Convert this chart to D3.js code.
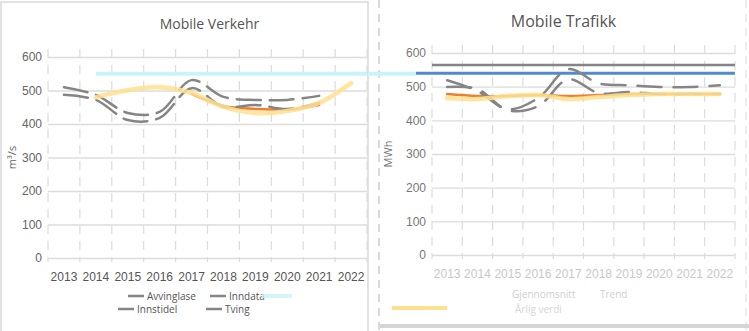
<!DOCTYPE html>
<html>
<head>
<meta charset="utf-8">
<script src="https://cdn.jsdelivr.net/npm/d3@7"></script>
<style>
  html, body { margin: 0; padding: 0; background: #fff; }
  svg { display: block; font-family: "Open Sans", "Noto Sans", sans-serif; }
</style>
</head>
<body>
<svg id="chart" width="749" height="331"></svg>
<script>
// Categories shared by both panels
const years = ["2013", "2014", "2015", "2016", "2017", "2018", "2019", "2020", "2021", "2022"];
const yTicks = [0, 100, 200, 300, 400, 500, 600];

// Left panel series
const leftGrayA  = [510, 487, 433, 436, 531, 481, 472, 472, 484, null];
const leftGrayB  = [487, 472, 412, 418, 507, 451, 457, 445, 463, null];
const leftOrange = [null, null, null, null, 490, 454, 445, 443, 457, null];
const leftYellow = [null, 480, 501, 510, 493, 451, 433, 439, 463, 522];
const leftTarget = 550;

// Right panel series
const rightGrayA  = [519, 487, 433, 466, 552, 510, 504, 499, 499, 504];
const rightGrayB  = [499, 493, 430, 442, 522, 481, 484, 478, 478, 478];
const rightOrange = [478, 472, 472, 475, 472, 475, 478, 478, 478, 478];
const rightYellow = [466, 463, 472, 475, 463, 469, 475, 478, 478, 478];
const rightCap    = 564;
const rightTarget = 540;

const svg = d3.select("#chart");

const C = {
  gray: "#858585",
  orange: "#ed7d31",
  yellow: "#ffe08f",
  cyan: "#c8f4fb",
  blue: "#4f8cc9",
  grid: "#dcdcdc",
  frame: "#d9d9d9"
};

// Panel frames
svg.append("path")
  .attr("d", "M1,331 V2 H368 V331")
  .attr("fill", "none").attr("stroke", C.frame).attr("stroke-width", 1.5);
svg.append("line").attr("x1", 379).attr("x2", 379).attr("y1", 0).attr("y2", 331)
  .attr("stroke", C.frame).attr("stroke-width", 2).attr("stroke-dasharray", "8,6");
svg.append("line").attr("x1", 746).attr("x2", 746).attr("y1", 0).attr("y2", 331)
  .attr("stroke", "#e6e6e6").attr("stroke-width", 1.5).attr("stroke-dasharray", "8,6");
svg.append("rect").attr("x", 380).attr("y", 324).attr("width", 369).attr("height", 4)
  .attr("fill", "#d6d6d6");

function panel(cfg) {
  const g = svg.append("g");
  const x = d3.scaleBand().domain(years).range([cfg.x0, cfg.x1]);
  const y = d3.scaleLinear().domain([0, 600]).range([cfg.y0, cfg.y1]);
  const cx = d => x(d) + x.bandwidth() / 2;

  // horizontal grid
  g.append("g")
    .attr("transform", `translate(${cfg.x0},0)`)
    .call(d3.axisLeft(y).tickValues(yTicks).tickSize(-(cfg.x1 - cfg.x0)).tickFormat(""))
    .call(a => a.select(".domain").remove())
    .call(a => a.selectAll("line").attr("stroke", C.grid).attr("stroke-width", 1.3));

  // vertical band separators
  g.append("g")
    .selectAll("line")
    .data(years.concat(["end"]))
    .join("line")
    .attr("x1", (d, i) => cfg.x0 + i * x.step())
    .attr("x2", (d, i) => cfg.x0 + i * x.step())
    .attr("y1", cfg.y1 - 8).attr("y2", cfg.y0 + 4)
    .attr("stroke", C.grid).attr("stroke-width", 1.2)
    .attr("stroke-dasharray", "9,7");

  // y tick labels
  g.append("g")
    .attr("transform", `translate(${cfg.x0 - 4},0)`)
    .call(d3.axisLeft(y).tickValues(yTicks).tickSize(0).tickPadding(2))
    .call(a => a.select(".domain").remove())
    .call(a => a.selectAll("text")
      .attr("fill", cfg.labelColor).attr("font-size", 12));

  // x tick labels
  g.append("g")
    .attr("transform", `translate(0,${cfg.y0 + 4})`)
    .call(d3.axisBottom(x).tickSize(0).tickPadding(10))
    .call(a => a.select(".domain").remove())
    .call(a => a.selectAll("text")
      .attr("fill", cfg.xLabelColor).attr("font-size", 12));

  // title
  g.append("text")
    .attr("x", (cfg.x0 + cfg.x1) / 2 + cfg.titleDx).attr("y", cfg.titleY)
    .attr("text-anchor", "middle")
    .attr("fill", "#555").attr("font-size", cfg.titleSize)
    .text(cfg.title);

  // y axis title
  g.append("text")
    .attr("transform", `translate(${cfg.yTitleX},${(cfg.y0 + cfg.y1) / 2}) rotate(-90)`)
    .attr("text-anchor", "middle")
    .attr("fill", cfg.labelColor).attr("font-size", 11)
    .text(cfg.yTitle);

  const line = d3.line()
    .defined(d => d[1] != null)
    .x(d => cx(d[0]))
    .y(d => y(d[1]))
    .curve(d3.curveCatmullRom.alpha(0.5));
  const pairs = vals => years.map((yr, i) => [yr, vals[i]]);

  return { g, x, y, cx, line, pairs };
}

// ---------- Left panel ----------
const L = panel({
  x0: 48, x1: 367, y0: 258, y1: 57,
  title: "Mobile Verkehr", titleY: 29, titleSize: 14, titleDx: 2,
  yTitle: "m³/s", yTitleX: 16,
  labelColor: "#666", xLabelColor: "#555"
});

L.g.append("line")
  .attr("x1", L.cx("2014")).attr("x2", 367)
  .attr("y1", L.y(leftTarget)).attr("y2", L.y(leftTarget))
  .attr("stroke", C.cyan).attr("stroke-width", 4);

[
  { v: leftOrange, c: C.orange, w: 2.5, dash: null },
  { v: leftGrayB, c: C.gray, w: 2.5, dash: "24,9" },
  { v: leftGrayA, c: C.gray, w: 2.5, dash: "24,9" },
  { v: leftYellow, c: C.yellow, w: 4.5, dash: null, op: 0.85 }
].forEach(s => {
  L.g.append("path")
    .attr("d", L.line(L.pairs(s.v)))
    .attr("fill", "none").attr("stroke", s.c).attr("stroke-width", s.w)
    .attr("stroke-linecap", "round")
    .attr("stroke-dasharray", s.dash)
    .attr("opacity", s.op || 1);
});

// Left legend, two rows
const leftLegend = [
  { label: "Avvinglase", color: C.gray, x: 128, y: 299 },
  { label: "Inndata", color: C.gray, x: 210, y: 299 },
  { label: "Innstidel", color: C.gray, x: 118, y: 312 },
  { label: "Tving", color: C.gray, x: 206, y: 312 }
];
const lg = svg.append("g");
leftLegend.forEach(d => {
  lg.append("line").attr("x1", d.x).attr("x2", d.x + 16).attr("y1", d.y - 3).attr("y2", d.y - 3)
    .attr("stroke", d.color).attr("stroke-width", 2.5);
  lg.append("text").attr("x", d.x + 19).attr("y", d.y + 1)
    .attr("fill", "#555").attr("font-size", 10).text(d.label);
});
lg.append("line").attr("x1", 262).attr("x2", 292).attr("y1", 296).attr("y2", 296)
  .attr("stroke", C.cyan).attr("stroke-width", 4).attr("opacity", 0.8);

// ---------- Right panel ----------
const R = panel({
  x0: 432, x1: 735, y0: 255, y1: 53,
  title: "Mobile Trafikk", titleY: 27, titleSize: 16, titleDx: -20,
  yTitle: "MWh", yTitleX: 392,
  labelColor: "#777", xLabelColor: "#c8c8c8"
});

// cyan target continues across the gap
svg.append("line")
  .attr("x1", 368).attr("x2", 416)
  .attr("y1", L.y(leftTarget)).attr("y2", L.y(leftTarget))
  .attr("stroke", C.cyan).attr("stroke-width", 4);

R.g.append("line")
  .attr("x1", 432).attr("x2", 735)
  .attr("y1", R.y(rightCap)).attr("y2", R.y(rightCap))
  .attr("stroke", C.gray).attr("stroke-width", 2.5);
R.g.append("line")
  .attr("x1", 416).attr("x2", 735)
  .attr("y1", R.y(rightTarget)).attr("y2", R.y(rightTarget))
  .attr("stroke", C.blue).attr("stroke-width", 3);

[
  { v: rightOrange, c: C.orange, w: 2.5, dash: null },
  { v: rightGrayB, c: C.gray, w: 2.5, dash: "24,12" },
  { v: rightGrayA, c: C.gray, w: 2.5, dash: "24,12" },
  { v: rightYellow, c: C.yellow, w: 4.5, dash: null, op: 0.85 }
].forEach(s => {
  R.g.append("path")
    .attr("d", R.line(R.pairs(s.v)))
    .attr("fill", "none").attr("stroke", s.c).attr("stroke-width", s.w)
    .attr("stroke-linecap", "round")
    .attr("stroke-dasharray", s.dash)
    .attr("opacity", s.op || 1);
});

// Right legend
const rg = svg.append("g");
rg.append("line").attr("x1", 392).attr("x2", 447).attr("y1", 308).attr("y2", 308)
  .attr("stroke", C.yellow).attr("stroke-width", 4);
rg.append("text").attr("x", 512).attr("y", 298).attr("fill", "#cfcfcf").attr("font-size", 10)
  .text("Gjennomsnitt");
rg.append("text").attr("x", 600).attr("y", 298).attr("fill", "#cfcfcf").attr("font-size", 10)
  .text("Trend");
rg.append("text").attr("x", 515).attr("y", 313).attr("fill", "#d6d6d6").attr("font-size", 10)
  .text("Årlig verdi");
</script>
</body>
</html>
